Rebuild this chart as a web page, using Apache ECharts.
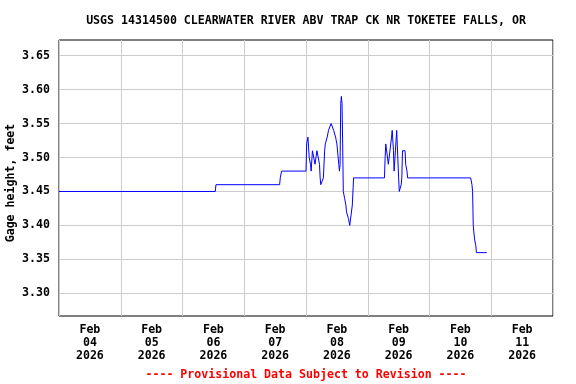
<!DOCTYPE html>
<html>
<head>
<meta charset="utf-8">
<script src="https://cdn.jsdelivr.net/npm/echarts@6/dist/echarts.min.js"></script>
<style>html,body{margin:0;padding:0;background:#fff}#c{width:576px;height:384px}</style>
</head>
<body>
<div id="c"></div>
<script>
var titleText = "USGS 14314500 CLEARWATER RIVER ABV TRAP CK NR TOKETEE FALLS, OR";
var footerText = "---- Provisional Data Subject to Revision ----";
var yAxisName = "Gage height, feet";
var dayLabels = ["Feb\n04\n2026","Feb\n05\n2026","Feb\n06\n2026","Feb\n07\n2026","Feb\n08\n2026","Feb\n09\n2026","Feb\n10\n2026","Feb\n11\n2026"];
var yTicks = [3.30, 3.35, 3.40, 3.45, 3.50, 3.55, 3.60, 3.65];
var times = [
 "2026-02-04T00:00Z","2026-02-06T12:45Z","2026-02-06T13:00Z","2026-02-07T13:45Z","2026-02-07T14:00Z","2026-02-07T14:15Z","2026-02-07T14:30Z",
 "2026-02-08T00:00Z","2026-02-08T00:15Z","2026-02-08T00:45Z","2026-02-08T01:15Z","2026-02-08T01:45Z","2026-02-08T02:00Z","2026-02-08T02:30Z",
 "2026-02-08T03:00Z","2026-02-08T03:30Z","2026-02-08T04:00Z","2026-02-08T04:15Z","2026-02-08T05:00Z","2026-02-08T05:15Z","2026-02-08T05:30Z",
 "2026-02-08T05:45Z","2026-02-08T06:30Z","2026-02-08T06:45Z","2026-02-08T07:15Z","2026-02-08T07:30Z","2026-02-08T08:15Z","2026-02-08T08:45Z",
 "2026-02-08T09:45Z","2026-02-08T10:30Z","2026-02-08T10:45Z","2026-02-08T11:30Z","2026-02-08T12:00Z","2026-02-08T12:45Z","2026-02-08T13:00Z",
 "2026-02-08T13:15Z","2026-02-08T13:30Z","2026-02-08T13:45Z","2026-02-08T14:00Z","2026-02-08T14:15Z","2026-02-08T14:30Z","2026-02-08T15:00Z",
 "2026-02-08T15:30Z","2026-02-08T15:45Z","2026-02-08T16:15Z","2026-02-08T16:30Z","2026-02-08T17:00Z","2026-02-08T17:45Z","2026-02-08T18:00Z",
 "2026-02-08T18:30Z","2026-02-09T06:30Z","2026-02-09T06:45Z","2026-02-09T07:00Z","2026-02-09T07:45Z","2026-02-09T08:00Z","2026-02-09T08:45Z",
 "2026-02-09T09:15Z","2026-02-09T09:30Z","2026-02-09T10:00Z","2026-02-09T10:15Z","2026-02-09T11:00Z","2026-02-09T11:15Z","2026-02-09T11:45Z",
 "2026-02-09T12:00Z","2026-02-09T12:15Z","2026-02-09T12:30Z","2026-02-09T13:00Z","2026-02-09T13:15Z","2026-02-09T13:30Z","2026-02-09T14:30Z",
 "2026-02-09T14:45Z","2026-02-09T15:15Z","2026-02-09T15:30Z","2026-02-10T16:00Z","2026-02-10T16:30Z","2026-02-10T16:45Z","2026-02-10T17:00Z",
 "2026-02-10T17:30Z","2026-02-10T18:00Z","2026-02-10T18:15Z","2026-02-10T22:15Z"
];
var heights = [
 3.45,3.45,3.46,3.46,3.47,3.47,3.48,
 3.48,3.52,3.53,3.50,3.49,3.48,3.51,
 3.51,3.49,3.49,3.51,3.51,3.49,3.47,
 3.46,3.46,3.47,3.51,3.52,3.53,3.54,
 3.55,3.55,3.54,3.53,3.52,3.49,3.48,
 3.49,3.58,3.59,3.58,3.52,3.45,3.44,
 3.43,3.42,3.42,3.41,3.40,3.40,3.43,
 3.47,3.47,3.50,3.52,3.52,3.49,3.49,
 3.53,3.54,3.51,3.48,3.48,3.54,3.54,
 3.47,3.45,3.45,3.46,3.47,3.51,3.51,
 3.49,3.48,3.47,3.47,3.46,3.45,3.40,
 3.38,3.37,3.36,3.36
];
var xMin = Date.UTC(2026,1,4), xMax = Date.UTC(2026,1,12), DAY = 86400000;
var yMin = 3.2667, yMax = 3.673;
var series = times.map(function(t,i){return [Date.parse(t), heights[i]];});
var FONT = "DejaVu Sans Mono";
var chart = echarts.init(document.getElementById('c'), null, {renderer:'canvas'});
chart.setOption({
  animation:false,
  backgroundColor:'#ffffff',
  graphic:[
    {type:'text',x:306,y:15,style:{text:titleText,align:'center',fill:'#000',font:'bold 11.6px "DejaVu Sans Mono"'}},
    {type:'text',x:306,y:369,style:{text:footerText,align:'center',fill:'#ff0000',font:'bold 11.6px "DejaVu Sans Mono"'}}
  ],
  grid:{left:59,right:23,top:40,bottom:68,show:true,borderColor:'#000',borderWidth:1,backgroundColor:'transparent',outerBoundsMode:'none',containLabel:false},
  xAxis:[
    {type:'value',min:xMin,max:xMax,interval:DAY,axisLine:{show:false},axisTick:{show:false},axisLabel:{show:false},
     splitLine:{show:true,lineStyle:{color:'#cccccc',width:1}}},
    {type:'category',data:dayLabels,boundaryGap:true,position:'bottom',axisLine:{show:false},axisTick:{show:false},splitLine:{show:false},
     axisLabel:{interval:0,margin:8,lineHeight:12.7,fontFamily:FONT,fontWeight:'bold',fontSize:11.6,color:'#000'}}
  ],
  yAxis:{type:'value',min:yMin,max:yMax,name:yAxisName,nameLocation:'middle',nameGap:42,nameMoveOverlap:false,
    nameTextStyle:{fontFamily:FONT,fontWeight:'bold',fontSize:11.6,color:'#000',padding:[0,10,0,0]},
    axisLine:{show:false},
    axisTick:{show:false,customValues:yTicks},
    axisLabel:{customValues:yTicks,margin:9,fontFamily:FONT,fontWeight:'bold',fontSize:11.6,color:'#000',formatter:function(v){return v.toFixed(2);}},
    splitLine:{show:true,lineStyle:{color:'#cccccc',width:1}}},
  series:[{type:'line',xAxisIndex:0,data:series,showSymbol:false,symbol:'none',lineStyle:{color:'#0000ff',width:1},itemStyle:{color:'#0000ff'}}]
});
</script>
</body>
</html>
